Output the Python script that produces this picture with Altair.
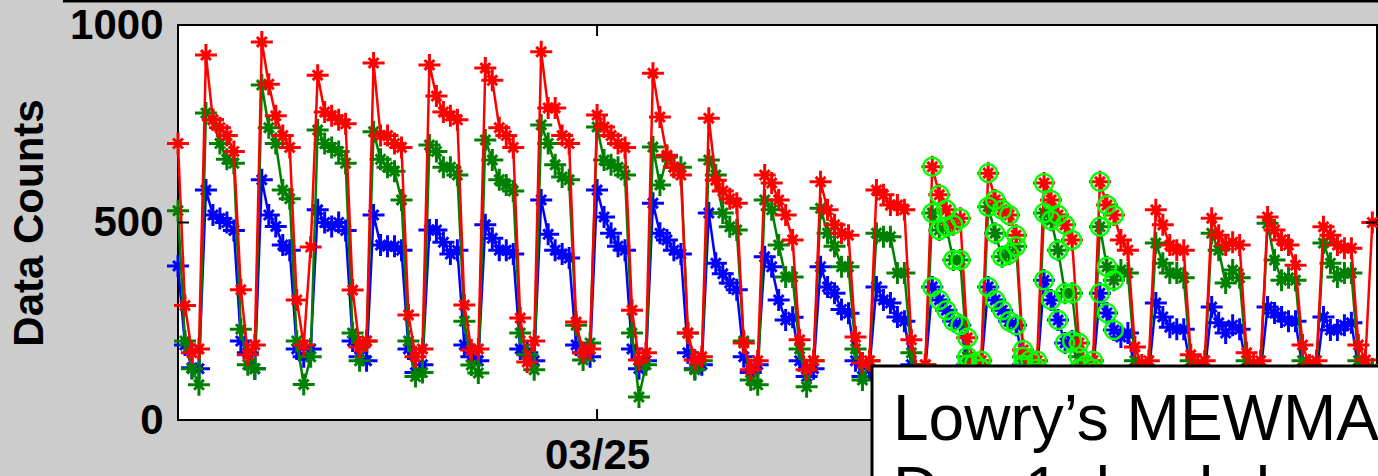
import altair as alt
import pandas as pd

# ---- data (3-hourly counts, 22 daily cycles) ----
red_counts = [
    700, 290, 170, 180, 924, 760, 740, 720,
    680, 330, 165, 190, 957, 850, 770, 720,
    690, 304, 190, 438, 873, 780, 770, 760,
    750, 329, 185, 200, 904, 720, 720, 700,
    690, 266, 160, 180, 899, 820, 780, 770,
    760, 291, 177, 180, 891, 860, 740, 720,
    690, 258, 147, 200, 932, 790, 790, 720,
    700, 248, 170, 180, 772, 742, 720, 700,
    690, 278, 152, 170, 878, 767, 670, 640,
    620, 220, 152, 160, 764, 607, 580, 560,
    549, 195, 127, 150, 620, 600, 557, 519,
    456, 203, 127, 150, 603, 532, 494, 473,
    468, 210, 144, 150, 582, 570, 544, 544,
    532, 203, 114, 140, 641, 570, 532, 494,
    511, 208, 144, 150, 625, 557, 532, 519,
    468, 177, 152, 150, 600, 557, 519, 494,
    456, 195, 139, 150, 603, 544, 519, 456,
    430, 185, 139, 150, 532, 494, 443, 430,
    430, 165, 139, 150, 511, 468, 443, 450,
    443, 170, 139, 150, 514, 481, 456, 443,
    392, 190, 139, 150, 489, 468, 443, 435,
    435, 190, 152, 500,
]
green_counts = [
    530, 200, 130, 89, 777, 760, 700, 660,
    650, 230, 140, 130, 848, 740, 700, 582,
    560, 200, 90, 160, 734, 700, 690, 680,
    650, 220, 150, 200, 730, 660, 640, 630,
    557, 200, 110, 120, 696, 680, 640, 640,
    620, 250, 139, 119, 709, 658, 608, 595,
    580, 220, 165, 127, 747, 700, 646, 615,
    608, 240, 152, 195, 742, 658, 646, 640,
    620, 220, 58, 140, 691, 595, 666, 640,
    640, 220, 127, 150, 658, 620, 524, 489,
    481, 200, 101, 89, 557, 532, 443, 362,
    362, 180, 84, 150, 536, 473, 440, 388,
    388, 180, 101, 150, 473, 464, 464, 372,
    372, 170, 110, 140, 524, 481, 489, 405,
    405, 160, 100, 130, 540, 473, 413, 420,
    440, 160, 100, 130, 524, 506, 430, 321,
    321, 160, 100, 130, 489, 388, 354, 380,
    372, 150, 100, 130, 448, 397, 372, 372,
    360, 150, 100, 130, 473, 430, 347, 380,
    360, 150, 100, 130, 498, 405, 354, 360,
    354, 150, 100, 130, 448, 397, 362, 372,
    372, 150, 100, 130,
]
blue_counts = [
    390, 190, 132, 130, 582, 519, 510, 500,
    480, 200, 170, 130, 608, 519, 490, 443,
    430, 180, 160, 180, 532, 500, 490, 500,
    480, 200, 160, 150, 519, 443, 440, 440,
    430, 180, 120, 140, 481, 481, 450, 420,
    430, 190, 160, 150, 494, 460, 430, 430,
    420, 180, 170, 150, 557, 470, 430, 420,
    410, 190, 170, 160, 582, 514, 473, 440,
    430, 180, 130, 150, 549, 473, 456, 430,
    420, 170, 130, 140, 524, 397, 370, 347,
    330, 160, 120, 140, 413, 388, 304, 253,
    260, 150, 110, 130, 388, 337, 321, 280,
    270, 150, 110, 130, 337, 304, 296, 261,
    250, 140, 110, 130, 337, 304, 278, 250,
    240, 140, 110, 130, 337, 304, 278, 250,
    240, 140, 100, 120, 354, 304, 253, 195,
    200, 130, 100, 120, 321, 271, 228, 210,
    220, 130, 100, 120, 296, 261, 235, 230,
    230, 130, 100, 120, 286, 246, 220, 240,
    230, 130, 100, 120, 286, 271, 261, 250,
    250, 130, 100, 120, 261, 228, 228, 240,
    246, 130, 100, 120,
]
SERIES_NAMES = ["blue", "green", "red"]
SERIES_COLORS = ["#0000ff", "#008000", "#ff0000"]
STEP_HOURS = 3
ALERT_START, ALERT_END = 324, 402      # hours flagged (green circles)
X_DOMAIN = [0, 515]
Y_DOMAIN = [0, 1000]
Y_TICKS = [0, 500, 1000]
X_TICKS = [180]
X_TICK_LABELS = ["03/25"]
Y_TITLE = "Data Counts"
BOX_LINES = ["Lowry\u2019s MEWMA", "Day 1, lambda = 0.3"]

rows = []
for name, vals in zip(SERIES_NAMES, [blue_counts, green_counts, red_counts]):
    for i, v in enumerate(vals):
        rows.append({"hour": i * STEP_HOURS, "count": v, "series": name})
df = pd.DataFrame(rows)

W, H = 1199, 395
FONT = "Liberation Sans"
STAR = "M-1,0L1,0M0,-1L0,1M-0.45,-0.45L0.45,0.45M-0.45,0.45L0.45,-0.45"

label_expr = " : ".join(
    [f"datum.value == {v} ? '{t}'" for v, t in zip(X_TICKS, X_TICK_LABELS)] + ["''"]
)

xenc = alt.X("hour:Q", scale=alt.Scale(domain=X_DOMAIN, nice=False, zero=False),
             axis=alt.Axis(values=X_TICKS, labelExpr=label_expr, title=None,
                           grid=False, domain=False, ticks=False, tickSize=0,
                           labelPadding=15))
yenc = alt.Y("count:Q", scale=alt.Scale(domain=Y_DOMAIN, nice=False),
             axis=alt.Axis(values=Y_TICKS, format="d", title=Y_TITLE, grid=False,
                           domain=False, ticks=False, tickSize=0, labelPadding=15,
                           titlePadding=18))

base = alt.Chart(df).encode(x=xenc, y=yenc)

layers = []
for name, col in zip(SERIES_NAMES, SERIES_COLORS):
    sub = base.transform_filter(alt.datum.series == name)
    layers.append(sub.mark_line(color=col, strokeWidth=2.5))
    layers.append(sub.mark_point(shape=STAR, size=484, filled=False, color=col,
                                 strokeWidth=3, opacity=1))

circles = base.transform_filter(
    (alt.datum.hour >= ALERT_START) & (alt.datum.hour <= ALERT_END)
).mark_point(shape="circle", size=324, filled=False, color="#00ff00",
             strokeWidth=2.5, opacity=1)
layers.append(circles)

# inward ticks (box-style axes)
ytick_df = pd.DataFrame({"count": Y_TICKS})
xtick_df = pd.DataFrame({"hour": X_TICKS})
yt_left = alt.Chart(ytick_df).mark_rule(color="black", strokeWidth=2).encode(
    y="count:Q", x=alt.value(0), x2=alt.value(11))
yt_right = alt.Chart(ytick_df).mark_rule(color="black", strokeWidth=2).encode(
    y="count:Q", x=alt.value(W - 11), x2=alt.value(W))
xt_top = alt.Chart(xtick_df).mark_rule(color="black", strokeWidth=2).encode(
    x="hour:Q", y=alt.value(0), y2=alt.value(11))
xt_bot = alt.Chart(xtick_df).mark_rule(color="black", strokeWidth=2).encode(
    x="hour:Q", y=alt.value(H - 11), y2=alt.value(H))
layers += [yt_left, yt_right, xt_top, xt_bot]

one = pd.DataFrame({"a": [0]})
top_line = alt.Chart(one).mark_rule(color="black", strokeWidth=3).encode(
    x=alt.value(-115), x2=alt.value(W + 30), y=alt.value(-24))
box = alt.Chart(one).mark_rect(fill="white", stroke="black", strokeWidth=3).encode(
    x=alt.value(694), x2=alt.value(W + 40), y=alt.value(341), y2=alt.value(H + 140))
txt1 = alt.Chart(one).mark_text(align="left", baseline="alphabetic", fontSize=64,
                                font=FONT, color="black").encode(
    x=alt.value(715), y=alt.value(415), text=alt.value(BOX_LINES[0]))
txt2 = alt.Chart(one).mark_text(align="left", baseline="alphabetic", fontSize=64,
                                font=FONT, color="black").encode(
    x=alt.value(715), y=alt.value(487), text=alt.value(BOX_LINES[1]))
layers += [top_line, box, txt1, txt2]

chart = alt.layer(*layers).properties(
    width=W, height=H,
    autosize=alt.AutoSizeParams(type="none"),
    padding={"left": 178, "top": 25, "right": 1, "bottom": 56},
    background="#cccccc",
).configure_view(
    fill="white", stroke="black", strokeWidth=2
).configure_axis(
    labelFont=FONT, labelFontSize=42, labelFontWeight="bold", labelColor="black",
    titleFont=FONT, titleFontSize=42, titleFontWeight="bold", titleColor="black",
)

chart.save("out.html", embed_options={"renderer": "svg", "actions": False})
